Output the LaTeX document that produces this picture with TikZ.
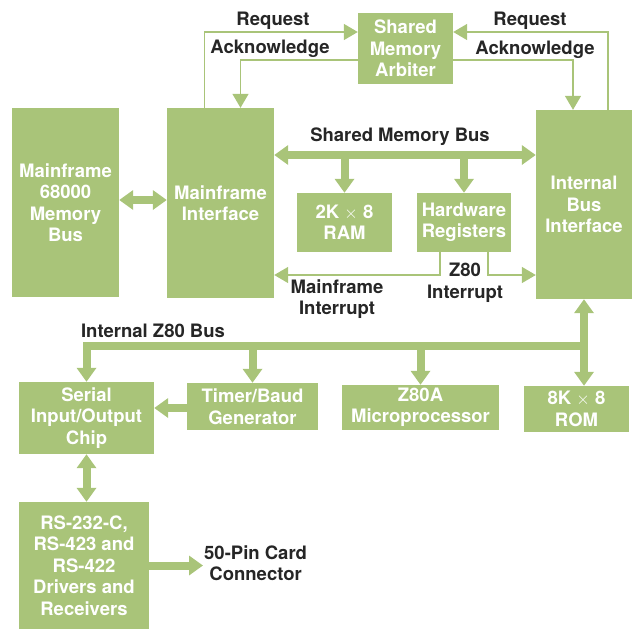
\documentclass[tikz,border=0pt]{standalone}
\usepackage{fontspec}
\setmainfont{TeX Gyre Heros}
\usetikzlibrary{arrows.meta}
\definecolor{hpgreen}{RGB}{169,196,121}
\definecolor{ink}{RGB}{38,38,38}

\begin{document}
\begin{tikzpicture}[x=1pt, y=-1pt]
		\tikzstyle{blk} = [fill=hpgreen, text=white, font=\fontsize{18.5}{21.5}\selectfont\bfseries, align=center, inner sep=0pt]
		\tikzstyle{lbl} = [text=ink, font=\fontsize{18.5}{21.5}\selectfont\bfseries, align=center, inner sep=1pt]
		\tikzstyle{bus} = [draw=hpgreen, line width=8pt, line join=miter, -{Triangle[width=19pt,length=14pt]}]
		\tikzstyle{dbus} = [draw=hpgreen, line width=8pt, {Triangle[width=19pt,length=14pt]}-{Triangle[width=19pt,length=14pt]}]
		\tikzstyle{sig} = [draw=hpgreen, line width=1.5pt, -{Triangle[width=16pt,length=14pt]}]
		\useasboundingbox (0,0) rectangle (636,629);
		\node[blk, minimum width=107pt, minimum height=189pt] (mfbus) at (65.5,202.5) {Mainframe\\68000\\Memory\\Bus};
		\node[blk, minimum width=107pt, minimum height=190pt] (mfi) at (220.5,203) {Mainframe\\Interface};
		\node[blk, minimum width=95pt, minimum height=71pt] (arb) at (405.5,48.5) {Shared\\Memory\\Arbiter};
		\node[blk, minimum width=96pt, minimum height=189pt] (ibi) at (584,204.5) {Internal\\Bus\\Interface};
		\node[blk, minimum width=95pt, minimum height=59pt] (ram) at (344.5,222.5) {2K $\times$ 8\\RAM};
		\node[blk, minimum width=94pt, minimum height=59pt] (hwr) at (464,222.5) {Hardware\\Registers};
		\node[blk, minimum width=135pt, minimum height=72pt] (sio) at (86.5,418) {Serial\\Input/Output\\Chip};
		\node[blk, minimum width=131pt, minimum height=47pt] (tmr) at (252.5,406.5) {Timer/Baud\\Generator};
		\node[blk, minimum width=157pt, minimum height=45pt] (cpu) at (420.5,407.5) {Z80A\\Microprocessor};
		\node[blk, minimum width=105pt, minimum height=46pt] (rom) at (576.5,409) {8K $\times$ 8\\ROM};
		\node[blk, minimum width=130pt, minimum height=127pt] (drv) at (84,565.5) {RS-232-C,\\RS-423 and\\RS-422\\Drivers and\\Receivers};
		\coordinate (req) at (0,32);
		\coordinate (ack) at (0,60);
		\coordinate (smb) at (0,155);
		\coordinate (irq) at (0,275);
		\coordinate (zbus) at (0,346);
		\draw [sig] ([xshift=-16pt]mfi.north) |- (arb.west |- req);
		\draw [sig] (arb.west |- ack) -| ([xshift=20pt]mfi.north);
		\draw [sig] ([xshift=24pt]ibi.north) |- (arb.east |- req);
		\draw [sig] (arb.east |- ack) -| ([xshift=-11pt]ibi.north);
		\draw [dbus] (mfbus.east |- 0,200) -- (mfi.west |- 0,200);
		\draw [dbus] (mfi.east |- smb) -- (ibi.west |- smb);
		\draw [bus] (ram.north |- smb) -- (ram.north);
		\draw [bus] (hwr.north |- smb) -- (hwr.north);
		\draw [sig] ([xshift=-24pt]hwr.south) |- (mfi.east |- irq);
		\draw [sig] ([xshift=24pt]hwr.south) |- (ibi.west |- irq);
		\draw [dbus] (ibi.south) -- (ibi.south |- rom.north);
		\draw [bus] (ibi.south |- zbus) -- (sio.north |- zbus) -- (sio.north);
		\draw [bus] (tmr.north |- zbus) -- (tmr.north);
		\draw [bus] (cpu.north |- zbus) -- (cpu.north);
		\draw [bus] (tmr.west |- 0,408) -- (sio.east |- 0,408);
		\draw [dbus] (sio.south) -- (sio.south |- drv.north);
		\node[lbl, anchor=west] (conn) at (203,563) {50-Pin Card\\Connector};
		\draw [bus] (drv.east) -- (drv.east -| conn.west);
		\node[lbl] (lreq) at (273,21) {Request};
		\node[lbl] (lack) at (270,49) {Acknowledge};
		\node[lbl] (rreq) at (530,21) {Request};
		\node[lbl] (rack) at (535,50) {Acknowledge};
		\node[lbl] (smbl) at (400,137) {Shared Memory Bus};
		\node[lbl] (mfirq) at (337,299) {Mainframe\\Interrupt};
		\node[lbl] (zirq) at (465,283) {Z80\\Interrupt};
		\node[lbl] (zbusl) at (153,331) {Internal Z80 Bus};
\end{tikzpicture}
\end{document}
